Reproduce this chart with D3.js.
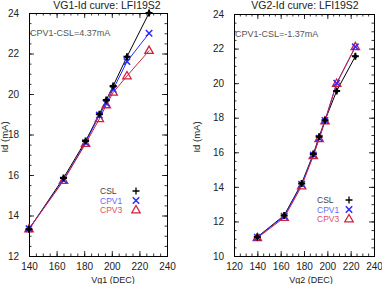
<!DOCTYPE html>
<html><head><meta charset="utf-8">
<script src="https://cdn.jsdelivr.net/npm/d3@7"></script>
<style>body{margin:0;background:#fff}svg{display:block}</style>
</head><body>
<svg id="c" width="382" height="284"></svg>
<script>
const seriesNames = ["CSL", "CPV1", "CPV3"];
const vg1X = [140, 165, 181, 191, 196, 201, 211, 227];
const vg1CSL = [13.32, 15.85, 17.68, 19.0, 19.7, 20.4, 21.84, 24.0];
const vg1CPV1 = [13.35, 15.75, 17.6, 18.96, 19.54, 20.23, 21.6, 23.0];
const vg1CPV3 = [13.33, 15.72, 17.55, 18.77, 19.46, 20.08, 20.89, 22.14];
const vg2X = [140, 163, 178, 188, 193, 198, 208, 224];
const vg2CSL = [11.1, 12.35, 14.2, 15.9, 16.9, 17.85, 19.55, 21.55];
const vg2CPV1 = [11.08, 12.3, 14.15, 15.85, 16.82, 17.84, 20.0, 22.1];
const vg2CPV3 = [11.05, 12.22, 14.05, 15.8, 16.78, 17.8, 19.98, 22.1];
const vg1XTicks = [140, 160, 180, 200, 220, 240];
const vg1YTicks = [12, 14, 16, 18, 20, 22, 24];
const vg2XTicks = [120, 140, 160, 180, 200, 220, 240];
const vg2YTicks = [10, 12, 14, 16, 18, 20, 22, 24];
const titles = ["VG1-Id curve: LFI19S2", "VG2-Id curve: LFI19S2"];
const xTitles = ["Vg1 (DEC)", "Vg2 (DEC)"];
const yTitle = "Id (mA)";
const notes = ["CPV1-CSL=4.37mA", "CPV1-CSL=-1.37mA"];

const lineCol = ["#000000", "#2a2aff", "#d0203a"];
const textCol = ["#444444", "#6a6aff", "#e0506a"];
const FONT = "Liberation Sans, Arial, sans-serif";
const svg = d3.select("#c");

function panel(cfg) {
  const {x0, x1, y0, y1, xd, yd, xt, yt, xMinor, yMinor, xs, ys, title, titleX, xTitle, xTitleX, note, legX, legSymX, legY, yTitleX} = cfg;
  const x = d3.scaleLinear().domain(xd).range([x0, x1]);
  const y = d3.scaleLinear().domain(yd).range([y1, y0]);
  const g = svg.append("g");
  const minorX = d3.range(xd[0], xd[1] + 0.001, xMinor);
  const minorY = d3.range(yd[0], yd[1] + 0.001, yMinor);
  const tickStyle = a => a.call(s => s.select(".domain").attr("stroke", "#000").attr("stroke-width", 1))
    .call(s => s.selectAll(".tick line").attr("stroke", "#000").attr("stroke-width", 0.8));
  const mk = (axis, vals, tr, len) => {
    g.append("g").attr("transform", tr)
      .call(axis.tickValues(vals).tickSize(len).tickFormat(""))
      .call(tickStyle);
  };
  mk(d3.axisBottom(x), minorX, `translate(0,${y1})`, -2.5);
  mk(d3.axisTop(x), minorX, `translate(0,${y0})`, -2.5);
  mk(d3.axisLeft(y), minorY, `translate(${x0},0)`, -2.5);
  mk(d3.axisRight(y), minorY, `translate(${x1},0)`, -2.5);
  mk(d3.axisTop(x), xt, `translate(0,${y0})`, -5);
  mk(d3.axisRight(y), yt, `translate(${x1},0)`, -5);
  g.append("g").attr("transform", `translate(0,${y1})`)
    .call(d3.axisBottom(x).tickValues(xt).tickSize(-5).tickPadding(7).tickFormat(d3.format("d")))
    .call(tickStyle)
    .call(s => s.selectAll("text").attr("font-family", FONT).attr("font-size", 10).attr("fill", "#222"));
  g.append("g").attr("transform", `translate(${x0},0)`)
    .call(d3.axisLeft(y).tickValues(yt).tickSize(-5).tickPadding(10).tickFormat(d3.format("d")))
    .call(tickStyle)
    .call(s => s.selectAll("text").attr("font-family", FONT).attr("font-size", 10).attr("fill", "#222"));

  g.append("text").attr("x", titleX).attr("y", 9).attr("text-anchor", "middle")
    .attr("font-family", FONT).attr("font-size", 10.5).attr("fill", "#222").text(title);
  g.append("text").attr("x", xTitleX).attr("y", 282.5).attr("text-anchor", "middle")
    .attr("font-family", FONT).attr("font-size", 9).attr("fill", "#222").text(xTitle);
  g.append("text").attr("transform", `translate(${yTitleX},137) rotate(-90)`).attr("text-anchor", "middle")
    .attr("font-family", FONT).attr("font-size", 9.5).attr("fill", "#222").text(yTitle);
  g.append("text").attr("x", x0 + 1).attr("y", y0 + 23).attr("font-family", FONT)
    .attr("font-size", 9).attr("fill", "#555").text(note);

  const line = d3.line().x(d => x(d[0])).y(d => y(d[1]));
  ys.forEach((vals, i) => {
    const pts = xs.map((v, k) => [v, vals[k]]);
    g.append("path").datum(pts).attr("d", line).attr("fill", "none")
      .attr("stroke", lineCol[i]).attr("stroke-width", 1);
  });
  const sym = (sel, i, px, py) => {
    if (i === 0) {
      sel.append("path").attr("d", `M${px-3.5},${py}H${px+3.5}M${px},${py-3.5}V${py+3.5}`)
        .attr("stroke", lineCol[0]).attr("stroke-width", 2);
      sel.append("circle").attr("cx", px).attr("cy", py).attr("r", 2).attr("fill", "#000");
    } else if (i === 1) {
      sel.append("path").attr("d", `M${px-3.2},${py-3.2}L${px+3.2},${py+3.2}M${px-3.2},${py+3.2}L${px+3.2},${py-3.2}`)
        .attr("stroke", lineCol[1]).attr("stroke-width", 1.5);
    } else {
      sel.append("path").attr("d", `M${px},${py-4.5}L${px+4.2},${py+2.8}L${px-4.2},${py+2.8}Z`)
        .attr("stroke", lineCol[2]).attr("stroke-width", 1.3).attr("fill", "none");
    }
  };
  [2, 1, 0].forEach(i => {
    xs.forEach((v, k) => sym(g.append("g"), i, x(v), y(ys[i][k])));
  });
  seriesNames.forEach((n, i) => {
    const yy = legY + i * 9.5;
    g.append("text").attr("x", legX).attr("y", yy + 3).attr("font-family", FONT)
      .attr("font-size", 8.5).attr("fill", textCol[i]).text(n);
    if (i === 0) {
      g.append("path").attr("d", `M${legSymX-3.5},${yy}H${legSymX+3.5}M${legSymX},${yy-3.5}V${yy+3.5}`)
        .attr("stroke", "#000").attr("stroke-width", 1.3);
    } else sym(g.append("g"), i, legSymX, yy);
  });
}

panel({x0: 29, x1: 167, y0: 13, y1: 256, xd: [140, 240], yd: [12, 24], xt: vg1XTicks, yt: vg1YTicks,
  xMinor: 5, yMinor: 0.5, xs: vg1X, ys: [vg1CSL, vg1CPV1, vg1CPV3], title: titles[0], titleX: 107,
  xTitle: xTitles[0], xTitleX: 113, note: notes[0], legX: 100, legSymX: 136, legY: 191, yTitleX: 8});
panel({x0: 234, x1: 374, y0: 14, y1: 256, xd: [120, 240], yd: [10, 24], xt: vg2XTicks, yt: vg2YTicks,
  xMinor: 5, yMinor: 0.5, xs: vg2X, ys: [vg2CSL, vg2CPV1, vg2CPV3], title: titles[1], titleX: 305,
  xTitle: xTitles[1], xTitleX: 311, note: notes[1], legX: 317, legSymX: 349, legY: 200, yTitleX: 200});
</script>
</body></html>
